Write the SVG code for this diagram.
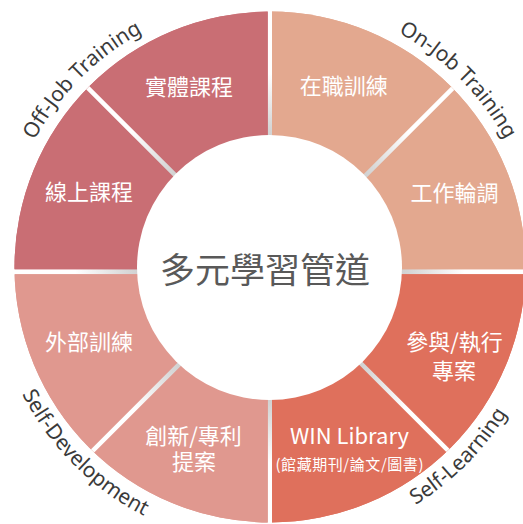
<svg xmlns="http://www.w3.org/2000/svg" xmlns:xlink="http://www.w3.org/1999/xlink" width="523" height="524" viewBox="0 0 523 524">
<style>
.lbl{font-family:"Noto Sans CJK TC","Noto Sans",sans-serif;font-size:22px;fill:#ffffff;text-anchor:middle}
.small{font-size:15px}
.outer{font-family:"Noto Sans","Noto Sans CJK TC",sans-serif;font-size:21px;fill:#3a3a3a}
.center{font-family:"Noto Sans CJK TC",sans-serif;font-size:35px;fill:#595959;text-anchor:middle}
.shade{fill:url(#shade)}
.div{stroke:url(#gap);stroke-width:4.5;fill:none}
</style>
<defs>
<clipPath id="ring"><circle cx="270" cy="267" r="255.5"/></clipPath>
<radialGradient id="shade" gradientUnits="userSpaceOnUse" cx="270" cy="268" r="256">
<stop offset="0.5" stop-color="#000" stop-opacity="0.29"/>
<stop offset="0.54" stop-color="#000" stop-opacity="0.25"/>
<stop offset="0.6" stop-color="#000" stop-opacity="0.15"/>
<stop offset="0.68" stop-color="#000" stop-opacity="0.06"/>
<stop offset="0.76" stop-color="#000" stop-opacity="0"/>
<stop offset="1" stop-color="#000" stop-opacity="0"/>
</radialGradient>
<radialGradient id="gap" gradientUnits="userSpaceOnUse" cx="270" cy="268" r="256">
<stop offset="0.5" stop-color="#cfcfcf"/>
<stop offset="0.56" stop-color="#d8d8d8"/>
<stop offset="0.66" stop-color="#ececec"/>
<stop offset="0.76" stop-color="#ffffff"/>
<stop offset="1" stop-color="#ffffff"/>
</radialGradient>
<path id="arcTL" d="M 2,268 A 268 268 0 0 1 270,0"/>
<path id="arcTR" d="M 270,0 A 268 268 0 0 1 538,268"/>
<path id="arcBL" d="M -8,268 A 278 278 0 0 0 270,546"/>
<path id="arcBR" d="M 270,546 A 278 278 0 0 0 548,268"/>
</defs>

<circle cx="270" cy="267" r="255.5" fill="url(#gap)"/>

<g id="seg-shiti" clip-path="url(#ring)">
<polygon id="p1" points="0,0 267.7,0 267.7,267.7" fill="#c96e74"/>
<use href="#p1" xlink:href="#p1" class="shade"/>
<text class="lbl" x="189" y="94.5">實體課程</text>
</g>
<g id="seg-xianshang" clip-path="url(#ring)">
<polygon id="p2" points="0,0 267.7,267.7 267.7,269.3 0,269.3" fill="#c96e74"/>
<use href="#p2" xlink:href="#p2" class="shade"/>
<text class="lbl" x="89" y="200">線上課程</text>
</g>
<g id="seg-zaizhi" clip-path="url(#ring)">
<polygon id="p3" points="272,0 541,0 272,269" fill="#e3a88f"/>
<use href="#p3" xlink:href="#p3" class="shade"/>
<text class="lbl" x="343.7" y="94">在職訓練</text>
</g>
<g id="seg-gongzuo" clip-path="url(#ring)">
<polygon id="p4" points="541,0 600,0 600,269.3 272,269.3 272,269" fill="#e3a88f"/>
<use href="#p4" xlink:href="#p4" class="shade"/>
<text class="lbl" x="454.5" y="201">工作輪調</text>
</g>
<g id="seg-waibu" clip-path="url(#ring)">
<polygon id="p5" points="-100,274.3 267.7,274.3 267.7,275.8 -56.5,600 -100,600" fill="#e0988f"/>
<use href="#p5" xlink:href="#p5" class="shade"/>
<text class="lbl" x="89" y="349.5">外部訓練</text>
</g>
<g id="seg-chuangxin" clip-path="url(#ring)">
<polygon id="p6" points="267.7,275.8 267.7,600 -56.5,600" fill="#e0988f"/>
<use href="#p6" xlink:href="#p6" class="shade"/>
<text class="lbl" x="193.5" y="443.7">創新/專利</text>
<text class="lbl" x="194" y="470.4">提案</text>
</g>
<g id="seg-canyu" clip-path="url(#ring)">
<polygon id="p7" points="272,274.3 600,274.3 600,602.5" fill="#df705c"/>
<use href="#p7" xlink:href="#p7" class="shade"/>
<text class="lbl" x="454.5" y="350.4">參與/執行</text>
<text class="lbl" x="454" y="378.7">專案</text>
</g>
<g id="seg-win" clip-path="url(#ring)">
<polygon id="p8" points="272,274.3 600,602.5 272,600" fill="#df705c"/>
<use href="#p8" xlink:href="#p8" class="shade"/>
<text class="lbl" x="349.5" y="444">WIN Library</text>
<text class="lbl small" x="349.5" y="470" textLength="148" lengthAdjust="spacing">(館藏期刊/論文/圖書)</text>
</g>

<g id="connectors" clip-path="url(#ring)">
<line class="div" x1="270" y1="270" x2="0" y2="0"/>
<line class="div" x1="270" y1="271" x2="541" y2="0"/>
<line class="div" x1="270" y1="273.5" x2="-56.5" y2="600"/>
<line class="div" x1="270" y1="272.5" x2="600" y2="602.5"/>
</g>

<g id="center">
<circle cx="269.5" cy="267.5" r="132.5" fill="#ffffff"/>
<text class="center" x="265" y="283">多元學習管道</text>
</g>

<g id="label-offjob"><text class="outer"><textPath href="#arcTL" xlink:href="#arcTL" startOffset="50%" text-anchor="middle">Off-Job Training</textPath></text></g>
<g id="label-onjob"><text class="outer"><textPath href="#arcTR" xlink:href="#arcTR" startOffset="50%" text-anchor="middle">On-Job Training</textPath></text></g>
<g id="label-selfdev"><text class="outer"><textPath href="#arcBL" xlink:href="#arcBL" startOffset="50%" text-anchor="middle">Self-Development</textPath></text></g>
<g id="label-selflearn"><text class="outer"><textPath href="#arcBR" xlink:href="#arcBR" startOffset="50%" text-anchor="middle">Self-Learning</textPath></text></g>
</svg>
